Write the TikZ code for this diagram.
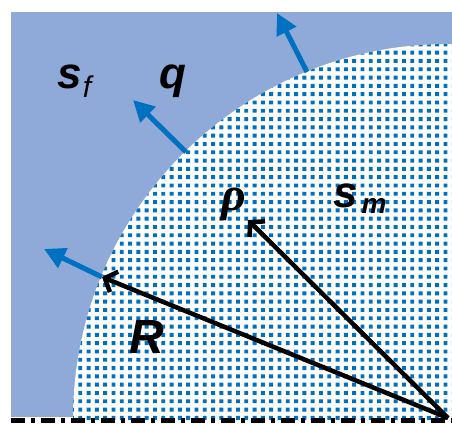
\documentclass[tikz,border=0pt]{standalone}
\usepackage{fontspec}
\setmainfont{Liberation Sans}
\newfontfamily\greekserif{Liberation Serif}
\usetikzlibrary{arrows.meta}
\definecolor{bgblue}{RGB}{143,169,216}
\definecolor{dotblue}{RGB}{0,112,192}
\tikzset{
  lbl/.style={font=\fontsize{44}{50}\selectfont\bfseries\itshape, inner sep=0pt},
  sublbl/.style={font=\fontsize{30}{34}\selectfont\itshape, inner sep=0pt},
  bluearrow/.style={draw=dotblue, line width=5pt, -{Triangle[length=21pt,width=21pt]}},
  blackarrow/.style={draw=black, line width=4.5pt, -{Straight Barb[length=10pt,width=22pt]}},
  baseline dash/.style={draw=black, line width=5pt, dash pattern=on 14pt off 6pt on 4pt off 6pt}
}
\begin{document}
\begin{tikzpicture}[x=1pt,y=-1pt]
\useasboundingbox (0,0) rectangle (452,423);
\clip (0,0) rectangle (452,423);
\fill[bgblue] (11,12) rectangle (452,417);
\coordinate (O) at (448,419);
\begin{scope}
  \clip (O) circle[radius=375];
  \fill[white] (O) circle[radius=375];
  \fill[dotblue] \foreach \i in {0,...,46} { \foreach \j in {0,...,47} { ({70+\i*8.3},{38+\j*8.3}) rectangle ++(3.9,-3.9) } };
\end{scope}
% outward normal arrows
\coordinate (a1s) at (307,72);  \coordinate (a1e) at (277,13);
\coordinate (a2s) at (186,152); \coordinate (a2e) at (133,100);
\coordinate (a3s) at (102,277); \coordinate (a3e) at (44,249);
\draw[bluearrow] (a1s) -- (a1e);
\draw[bluearrow] (a2s) -- (a2e);
\draw[bluearrow] (a3s) -- (a3e);
% radius arrows
\coordinate (C) at (448,418);
\coordinate (Rtip) at (102,277);
\coordinate (rhotip) at (248,220);
\draw[blackarrow] (C) -- (Rtip);
\draw[blackarrow] (C) -- (rhotip);
% dashed axis
\coordinate (d1) at (11,420.5);
\coordinate (d2) at (452,420.5);
\draw[baseline dash] (d1) -- (d2);
% labels
\node[lbl, anchor=base] (sf) at (70,88) {s};
\node[sublbl, anchor=base] (sff) at (87,97) {f};
\node[lbl, anchor=base] (q) at (173,88) {q};
\node[lbl, font=\fontsize{48}{54}\selectfont\greekserif\bfseries\itshape, anchor=base] (rho) at (234,210) {ρ};
\node[lbl, anchor=base] (sm) at (346,207) {s};
\node[sublbl, font=\fontsize{28}{32}\selectfont\bfseries\itshape, anchor=base] (smm) at (374,213) {m};
\node[lbl, font=\fontsize{48}{54}\selectfont\bfseries\itshape, anchor=base] (R) at (147,353) {R};
\end{tikzpicture}
\end{document}
